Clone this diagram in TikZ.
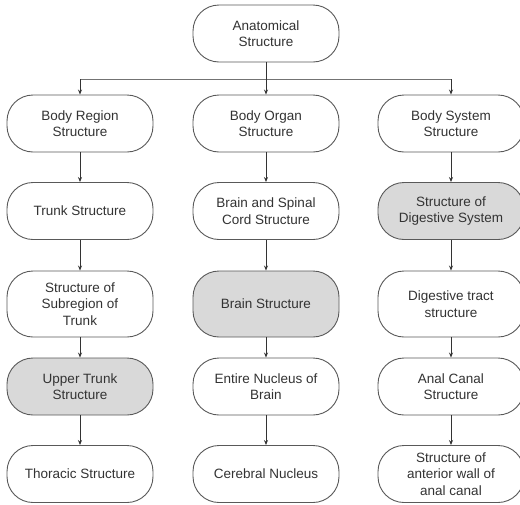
\documentclass[tikz,border=0pt]{standalone}
\usepackage{fontspec}
\setmainfont{Liberation Sans}
\usetikzlibrary{arrows.meta}
\begin{document}
\begin{tikzpicture}[x=1pt,y=-1pt,
  box/.style={draw=black!65, line width=0.9pt, rounded corners=26pt,
    minimum width=146pt, minimum height=57pt, align=center, inner sep=0pt,
    font=\fontsize{13.5}{16.5}\selectfont, text=black!80, fill=white},
  tall/.style={minimum height=66pt},
  hl/.style={fill=gray!30},
  arr/.style={-{Stealth[length=5pt,width=4pt]}, draw=black!80, line width=0.8pt},
  bar/.style={draw=black!55, line width=0.9pt}]
\clip (0,0) rectangle (520,504);
\fill[white] (0,0) rectangle (520,504);
% nodes
\node[box] (top) at (266,33.5) {Anatomical\\Structure};
\node[box] (a1) at (80,123.5) {Body Region\\Structure};
\node[box] (b1) at (266,123.5) {Body Organ\\Structure};
\node[box] (c1) at (451,123.5) {Body System\\Structure};
\node[box] (a2) at (80,211) {Trunk Structure};
\node[box] (b2) at (266,211) {Brain and Spinal\\Cord Structure};
\node[box,hl] (c2) at (451,211) {Structure of\\Digestive System};
\node[box,tall] (a3) at (80,304) {Structure of\\Subregion of\\Trunk};
\node[box,tall,hl] (b3) at (266,304) {Brain Structure};
\node[box,tall] (c3) at (451,304) {Digestive tract\\structure};
\node[box,hl] (a4) at (80,386.5) {Upper Trunk\\Structure};
\node[box] (b4) at (266,386.5) {Entire Nucleus of\\Brain};
\node[box] (c4) at (451,386.5) {Anal Canal\\Structure};
\node[box] (a5) at (80,474) {Thoracic Structure};
\node[box] (b5) at (266,474) {Cerebral Nucleus};
\node[box] (c5) at (451,474) {Structure of\\anterior wall of\\anal canal};
% connectors
\coordinate (jl) at (80,79);
\coordinate (jr) at (451,79);
\draw[bar] (jl) -- (jr);
\draw[arr] (top) -- (b1);
\draw[arr] (jl) -- (a1);
\draw[arr] (jr) -- (c1);
\foreach \c in {a,b,c}{
  \draw[arr] (\c1) -- (\c2);
  \draw[arr] (\c2) -- (\c3);
  \draw[arr] (\c3) -- (\c4);
  \draw[arr] (\c4) -- (\c5);
}
\end{tikzpicture}
\end{document}
